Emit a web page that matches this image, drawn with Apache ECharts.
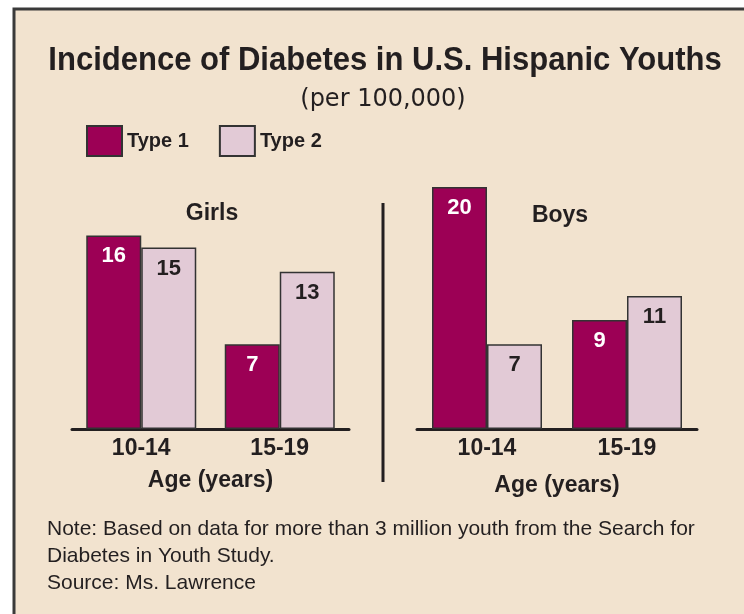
<!DOCTYPE html>
<html>
<head>
<meta charset="utf-8">
<script src="https://cdn.jsdelivr.net/npm/echarts@6/dist/echarts.min.js"></script>
<style>
  html, body { margin: 0; padding: 0; background: #ffffff; }
  #chart { width: 744px; height: 614px; }
</style>
</head>
<body>
<div id="chart"></div>
<script>
// ---- Data ----
const ageGroups = ['10-14', '15-19'];
const seriesNames = ['Type 1', 'Type 2'];
const girlsType1 = [16, 7];
const girlsType2 = [15, 13];
const boysType1 = [20, 9];
const boysType2 = [7, 11];
const panelTitles = ['Girls', 'Boys'];
const axisTitle = 'Age (years)';
const chartTitle = 'Incidence of Diabetes in U.S. Hispanic Youths';
const chartSubtitle = '(per 100,000)';
const noteLines = [
  'Note: Based on data for more than 3 million youth from the Search for',
  'Diabetes in Youth Study.',
  'Source: Ms. Lawrence'
];

// ---- Styles ----
const C1 = '#9C0055';
const C2 = '#E2CAD6';
const BG = '#F2E3CF';
const INK = '#231F20';
const SANS = '"Liberation Sans", Arial, sans-serif';

const chart = echarts.init(document.getElementById('chart'), null, { renderer: 'canvas' });

function xAx(gridIndex, nameGap) {
  return {
    type: 'category', gridIndex, data: ageGroups,
    axisLine: { lineStyle: { color: INK, width: 3 } },
    axisTick: { show: false },
    axisLabel: { color: INK, fontFamily: SANS, fontWeight: 'bold', fontSize: 23, margin: 8 },
    name: axisTitle, nameLocation: 'middle', nameGap,
    nameTextStyle: { color: INK, fontFamily: SANS, fontWeight: 'bold', fontSize: 23 }
  };
}
function yAx(gridIndex) {
  return { type: 'value', gridIndex, min: 0, max: 20, show: false, splitLine: { show: false } };
}
function bar(name, data, idx, color, labelColor) {
  return {
    name, type: 'bar', xAxisIndex: idx, yAxisIndex: idx, data,
    barWidth: 55, barGap: '0%',
    itemStyle: { color, borderColor: '#333333', borderWidth: 1.5 },
    label: {
      show: true, position: 'insideTop', distance: 10,
      color: labelColor, fontFamily: SANS, fontWeight: 'bold', fontSize: 22
    },
    emphasis: { disabled: true }
  };
}

const option = {
  animation: false,
  backgroundColor: '#ffffff',
  legend: {
    left: 86, top: 125, padding: 0, itemWidth: 35, itemHeight: 30, itemGap: 30,
    icon: 'rect',
    data: seriesNames,
    textStyle: { color: INK, fontFamily: SANS, fontWeight: 'bold', fontSize: 20 }
  },
  grid: [
    { left: 72, width: 277, top: 187, height: 242 },
    { left: 417, width: 280, top: 187, height: 242 }
  ],
  xAxis: [xAx(0, 40), xAx(1, 45)],
  yAxis: [yAx(0), yAx(1)],
  series: [
    bar(seriesNames[0], girlsType1, 0, C1, '#ffffff'),
    bar(seriesNames[1], girlsType2, 0, C2, INK),
    bar(seriesNames[0], boysType1, 1, C1, '#ffffff'),
    bar(seriesNames[1], boysType2, 1, C2, INK)
  ],
  graphic: [
    { type: 'rect', z: -100, silent: true,
      shape: { x: 14, y: 9, width: 760, height: 640 },
      style: { fill: BG, stroke: '#3A3A3A', lineWidth: 3 } },
    { type: 'text', x: 385, y: 61, scaleX: 0.94, silent: true,
      style: { text: chartTitle, fill: INK, font: 'bold 33px ' + SANS, textAlign: 'center', textVerticalAlign: 'middle' } },
    { type: 'text', x: 383, y: 100, silent: true,
      style: { text: chartSubtitle, fill: INK, font: '24px "DejaVu Sans", sans-serif', textAlign: 'center', textVerticalAlign: 'middle' } },
    { type: 'text', x: 212, y: 214, silent: true,
      style: { text: panelTitles[0], fill: INK, font: 'bold 23px ' + SANS, textAlign: 'center', textVerticalAlign: 'middle' } },
    { type: 'text', x: 560, y: 216, silent: true,
      style: { text: panelTitles[1], fill: INK, font: 'bold 23px ' + SANS, textAlign: 'center', textVerticalAlign: 'middle' } },
    { type: 'line', silent: true,
      shape: { x1: 383, y1: 203, x2: 383, y2: 482 },
      style: { stroke: INK, lineWidth: 3 } },
    { type: 'text', x: 47, y: 529, silent: true,
      style: { text: noteLines[0], fill: INK, font: '21px ' + SANS, textVerticalAlign: 'middle' } },
    { type: 'text', x: 47, y: 556, silent: true,
      style: { text: noteLines[1], fill: INK, font: '21px ' + SANS, textVerticalAlign: 'middle' } },
    { type: 'text', x: 47, y: 583, silent: true,
      style: { text: noteLines[2], fill: INK, font: '21px ' + SANS, textVerticalAlign: 'middle' } }
  ]
};
chart.setOption(option);
</script>
</body>
</html>
